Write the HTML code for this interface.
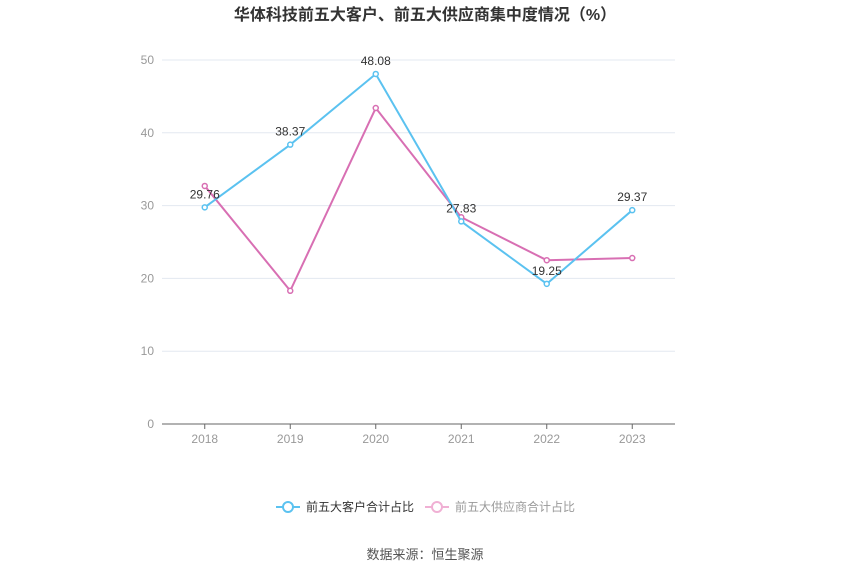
<!DOCTYPE html>
<html><head><meta charset="utf-8"><style>
body{margin:0;background:#fff;width:850px;height:575px;overflow:hidden;font-family:"Liberation Sans","Noto Sans CJK SC",sans-serif}
</style></head><body>
<svg id="c" width="850" height="575" style="position:absolute;left:0;top:0">
<text x="425" y="20" text-anchor="middle" font-size="16" font-weight="bold" fill="#333">华体科技前五大客户、前五大供应商集中度情况（%）</text>
<g id="grid"></g><g id="plot"></g>
<g>
<g>
<line x1="276" y1="507" x2="300" y2="507" stroke="#5bc2f0" stroke-width="2"/>
<circle cx="288" cy="507" r="5" fill="#fff" stroke="#5bc2f0" stroke-width="2"/>
<text x="306" y="511" font-size="12" fill="#333">前五大客户合计占比</text></g>
<g>
<line x1="425" y1="507" x2="449" y2="507" stroke="#f0b0d4" stroke-width="2"/>
<circle cx="437" cy="507" r="5" fill="#fff" stroke="#f0b0d4" stroke-width="2"/>
<text x="455" y="511" font-size="12" fill="#999">前五大供应商合计占比</text></g>
</g>
<text x="425" y="559" text-anchor="middle" font-size="13" fill="#555">数据来源：恒生聚源</text>
</svg>
<script>
const categories=["2018","2019","2020","2021","2022","2023"];
const customers=[29.76,38.37,48.08,27.83,19.25,29.37];
const suppliers=[32.7,18.3,43.4,28.4,22.5,22.8];
const yTicks=[0,10,20,30,40,50];
const NS="http://www.w3.org/2000/svg";
const x0=162,x1=675,y0=424,y1=60;
const step=(x1-x0)/categories.length;
const X=i=>x0+step*(i+0.5);
const Y=v=>y0-(v/50)*(y0-y1);
function mk(tag,attrs,parent){const e=document.createElementNS(NS,tag);for(const k in attrs)e.setAttribute(k,attrs[k]);parent.appendChild(e);return e;}
const grid=document.getElementById('grid'),plot=document.getElementById('plot');
yTicks.forEach(t=>{
 const l=mk('line',{x1:x0,x2:x1,y1:Y(t),y2:Y(t),stroke:t===0?'#666':'#e3e8f0','stroke-width':1},grid);
 
 
 const tx=mk('text',{x:x0-8,y:Y(t)+4,'text-anchor':'end','font-size':12,fill:'#999'},grid);
 tx.textContent=t;
 
 
});
categories.forEach((c,i)=>{
 const tk=mk('line',{x1:X(i),x2:X(i),y1:y0,y2:y0+5,stroke:'#666'},grid);
 
 
 const tx=mk('text',{x:X(i),y:y0+19,'text-anchor':'middle','font-size':12,fill:'#999'},grid);
 tx.textContent=c;
 
 
});
function series(vals,color,name,labels){
 const p=mk('polyline',{points:vals.map((v,i)=>X(i)+','+Y(v)).join(' '),fill:'none',stroke:color,'stroke-width':2},plot);
 
 
 vals.forEach((v,i)=>{
  const c=mk('circle',{cx:X(i),cy:Y(v),r:2.5,fill:'#fff',stroke:color,'stroke-width':1.5},plot);
  
  
  if(labels){
   const t=mk('text',{x:X(i),y:Y(v)-9,'text-anchor':'middle','font-size':12,fill:'#333'},plot);
   t.textContent=v.toFixed(2);
   
   
  }
 });
}
series(suppliers,'#d86fb3','suppliers',false);
series(customers,'#5bc2f0','customers',true);
</script>
</body></html>
